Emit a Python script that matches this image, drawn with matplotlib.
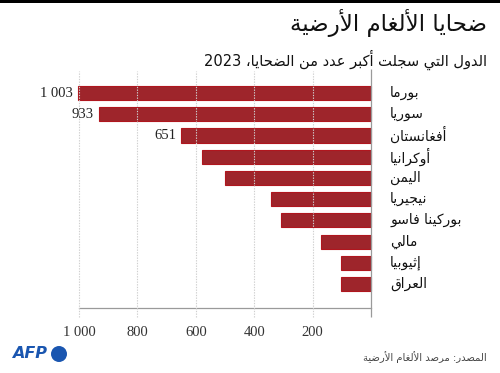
import matplotlib
matplotlib.use("Agg")
import matplotlib.pyplot as plt
from matplotlib.patches import Ellipse, Rectangle
import re

# ---------------- data ----------------
countries = ["بورما", "سوريا", "أفغانستان", "أوكرانيا", "اليمن",
             "نيجيريا", "بوركينا فاسو", "مالي", "إثيوبيا", "العراق"]
victims = [1003, 933, 651, 580, 499, 341, 307, 170, 104, 102]
value_labels = ["1 003", "933", "651", "", "", "", "", "", "", ""]
tick_values = [1000, 800, 600, 400, 200]
tick_labels = ["1 000", "800", "600", "400", "200"]
title = "ضحايا الألغام الأرضية"
subtitle = "الدول التي سجلت أكبر عدد من الضحايا، 2023"
source = "المصدر: مرصد الألغام الأرضية"

# ---------------- minimal Arabic shaping (presentation forms + RTL) ----------------
FORMS = {  # isolated, final, initial, medial (None if not joining forward)
    '\u0621': (0xFE80, None, None, None),
    '\u0622': (0xFE81, 0xFE82, None, None),
    '\u0623': (0xFE83, 0xFE84, None, None),
    '\u0624': (0xFE85, 0xFE86, None, None),
    '\u0625': (0xFE87, 0xFE88, None, None),
    '\u0626': (0xFE89, 0xFE8A, 0xFE8B, 0xFE8C),
    '\u0627': (0xFE8D, 0xFE8E, None, None),
    '\u0628': (0xFE8F, 0xFE90, 0xFE91, 0xFE92),
    '\u0629': (0xFE93, 0xFE94, None, None),
    '\u062A': (0xFE95, 0xFE96, 0xFE97, 0xFE98),
    '\u062B': (0xFE99, 0xFE9A, 0xFE9B, 0xFE9C),
    '\u062C': (0xFE9D, 0xFE9E, 0xFE9F, 0xFEA0),
    '\u062D': (0xFEA1, 0xFEA2, 0xFEA3, 0xFEA4),
    '\u062E': (0xFEA5, 0xFEA6, 0xFEA7, 0xFEA8),
    '\u062F': (0xFEA9, 0xFEAA, None, None),
    '\u0630': (0xFEAB, 0xFEAC, None, None),
    '\u0631': (0xFEAD, 0xFEAE, None, None),
    '\u0632': (0xFEAF, 0xFEB0, None, None),
    '\u0633': (0xFEB1, 0xFEB2, 0xFEB3, 0xFEB4),
    '\u0634': (0xFEB5, 0xFEB6, 0xFEB7, 0xFEB8),
    '\u0635': (0xFEB9, 0xFEBA, 0xFEBB, 0xFEBC),
    '\u0636': (0xFEBD, 0xFEBE, 0xFEBF, 0xFEC0),
    '\u0637': (0xFEC1, 0xFEC2, 0xFEC3, 0xFEC4),
    '\u0638': (0xFEC5, 0xFEC6, 0xFEC7, 0xFEC8),
    '\u0639': (0xFEC9, 0xFECA, 0xFECB, 0xFECC),
    '\u063A': (0xFECD, 0xFECE, 0xFECF, 0xFED0),
    '\u0641': (0xFED1, 0xFED2, 0xFED3, 0xFED4),
    '\u0642': (0xFED5, 0xFED6, 0xFED7, 0xFED8),
    '\u0643': (0xFED9, 0xFEDA, 0xFEDB, 0xFEDC),
    '\u0644': (0xFEDD, 0xFEDE, 0xFEDF, 0xFEE0),
    '\u0645': (0xFEE1, 0xFEE2, 0xFEE3, 0xFEE4),
    '\u0646': (0xFEE5, 0xFEE6, 0xFEE7, 0xFEE8),
    '\u0647': (0xFEE9, 0xFEEA, 0xFEEB, 0xFEEC),
    '\u0648': (0xFEED, 0xFEEE, None, None),
    '\u0649': (0xFEEF, 0xFEF0, None, None),
    '\u064A': (0xFEF1, 0xFEF2, 0xFEF3, 0xFEF4),
}
LAM_ALEF = {'\u0622': (0xFEF5, 0xFEF6), '\u0623': (0xFEF7, 0xFEF8),
            '\u0625': (0xFEF9, 0xFEFA), '\u0627': (0xFEFB, 0xFEFC)}


def joins_forward(c):
    return c in FORMS and FORMS[c][2] is not None


def shape(text):
    chars = []
    i = 0
    while i < len(text):
        c = text[i]
        if c == '\u0644' and i + 1 < len(text) and text[i + 1] in LAM_ALEF:
            chars.append(('LA', text[i + 1]))
            i += 2
        else:
            chars.append((c, None))
            i += 1
    out = []
    for k, (c, extra) in enumerate(chars):
        prev = chars[k - 1][0] if k > 0 else None
        prev_joins = prev is not None and prev != 'LA' and joins_forward(prev)
        if c == 'LA':
            iso, fin = LAM_ALEF[extra]
            out.append(chr(fin if prev_joins else iso))
            continue
        if c not in FORMS:
            out.append(c)
            continue
        nxt = chars[k + 1][0] if k + 1 < len(chars) else None
        next_joins = nxt is not None and (nxt == 'LA' or nxt in FORMS)
        iso, fin, ini, med = FORMS[c]
        can_fwd = ini is not None
        if prev_joins and next_joins and can_fwd:
            out.append(chr(med))
        elif prev_joins and fin is not None:
            out.append(chr(fin))
        elif next_joins and can_fwd:
            out.append(chr(ini))
        else:
            out.append(chr(iso))
    vis = ''.join(out)[::-1]
    vis = re.sub(r'[0-9]+', lambda m: m.group(0)[::-1], vis)
    return vis


AR_FONT = ['DejaVu Sans']
NUM_FONT = ['Liberation Serif', 'DejaVu Serif']

# ---------------- figure ----------------
W, H = 500, 373
fig = plt.figure(figsize=(W / 100, H / 100), dpi=100)
fig.patch.set_facecolor('white')

ax_l, ax_r, ax_t, ax_b = 79, 371, 71, 308
ax = fig.add_axes([ax_l / W, 1 - ax_b / H, (ax_r - ax_l) / W, (ax_b - ax_t) / H])
ax.set_xlim(1000, 0)
n = len(countries)
ax.set_ylim(n - 1 + 1.13, -1.04)

ypos = list(range(n))
ax.barh(ypos, victims, height=0.66, color='#9e252b', edgecolor='#b0161e',
        linewidth=0.8, zorder=2, clip_on=False)

ax.vlines(tick_values, -0.04, 1.0, transform=ax.get_xaxis_transform(),
          colors='#cfcfcf', linestyles=(0, (1.2, 1.2)), linewidth=0.8,
          zorder=3, clip_on=False)
ax.vlines([0], -0.04, 1.01, transform=ax.get_xaxis_transform(),
          colors='#9a9a9a', linewidth=0.9, zorder=4, clip_on=False)

for s in ['top', 'left', 'right']:
    ax.spines[s].set_visible(False)
ax.spines['bottom'].set_color('#9a9a9a')
ax.spines['bottom'].set_linewidth(0.9)
ax.set_yticks([])
ax.set_xticks(tick_values)
ax.set_xticklabels(tick_labels, family=NUM_FONT, fontsize=10.5, color='#333333')
ax.tick_params(axis='x', length=0, pad=13)
ax.set_facecolor('none')

for y, v, lab in zip(ypos, victims, value_labels):
    if lab:
        ax.annotate(lab, xy=(v, y), xytext=(-5, 0), textcoords='offset pixels',
                    ha='right', va='center', family=NUM_FONT,
                    fontsize=10.5, color='#222222', annotation_clip=False)

for y, c in zip(ypos, countries):
    ax.annotate(shape(c), xy=(0, y), xycoords=('data', 'data'),
                xytext=(390 - ax_r, 0), textcoords='offset pixels',
                ha='left', va='center', family=AR_FONT, fontsize=10,
                color='#111111', annotation_clip=False)

fig.text(487 / W, 1 - 23 / H, shape(title), ha='right', va='center',
         family=AR_FONT, fontsize=16.5, color='#111111')
fig.text(487 / W, 1 - 60 / H, shape(subtitle), ha='right', va='center',
         family=AR_FONT, fontsize=10.5, color='#111111')
fig.text(487 / W, 1 - 357 / H, shape(source), ha='right', va='center',
         family=AR_FONT, fontsize=7.2, color='#444444')

fig.patches.append(Rectangle((0, 1 - 3 / H), 1, 3 / H, transform=fig.transFigure,
                             facecolor='black', edgecolor='none'))

fig.text(12 / W, 1 - 354 / H, 'AFP', ha='left', va='center', family=['DejaVu Sans'],
         fontsize=11.5, fontweight='bold', fontstyle='italic', color='#1a56b0')
fig.patches.append(Ellipse((59 / W, 1 - 354 / H), 16 / W, 16 / H,
                           transform=fig.transFigure,
                           facecolor='#1a56b0', edgecolor='none'))

fig.savefig('out.png', dpi=100)
